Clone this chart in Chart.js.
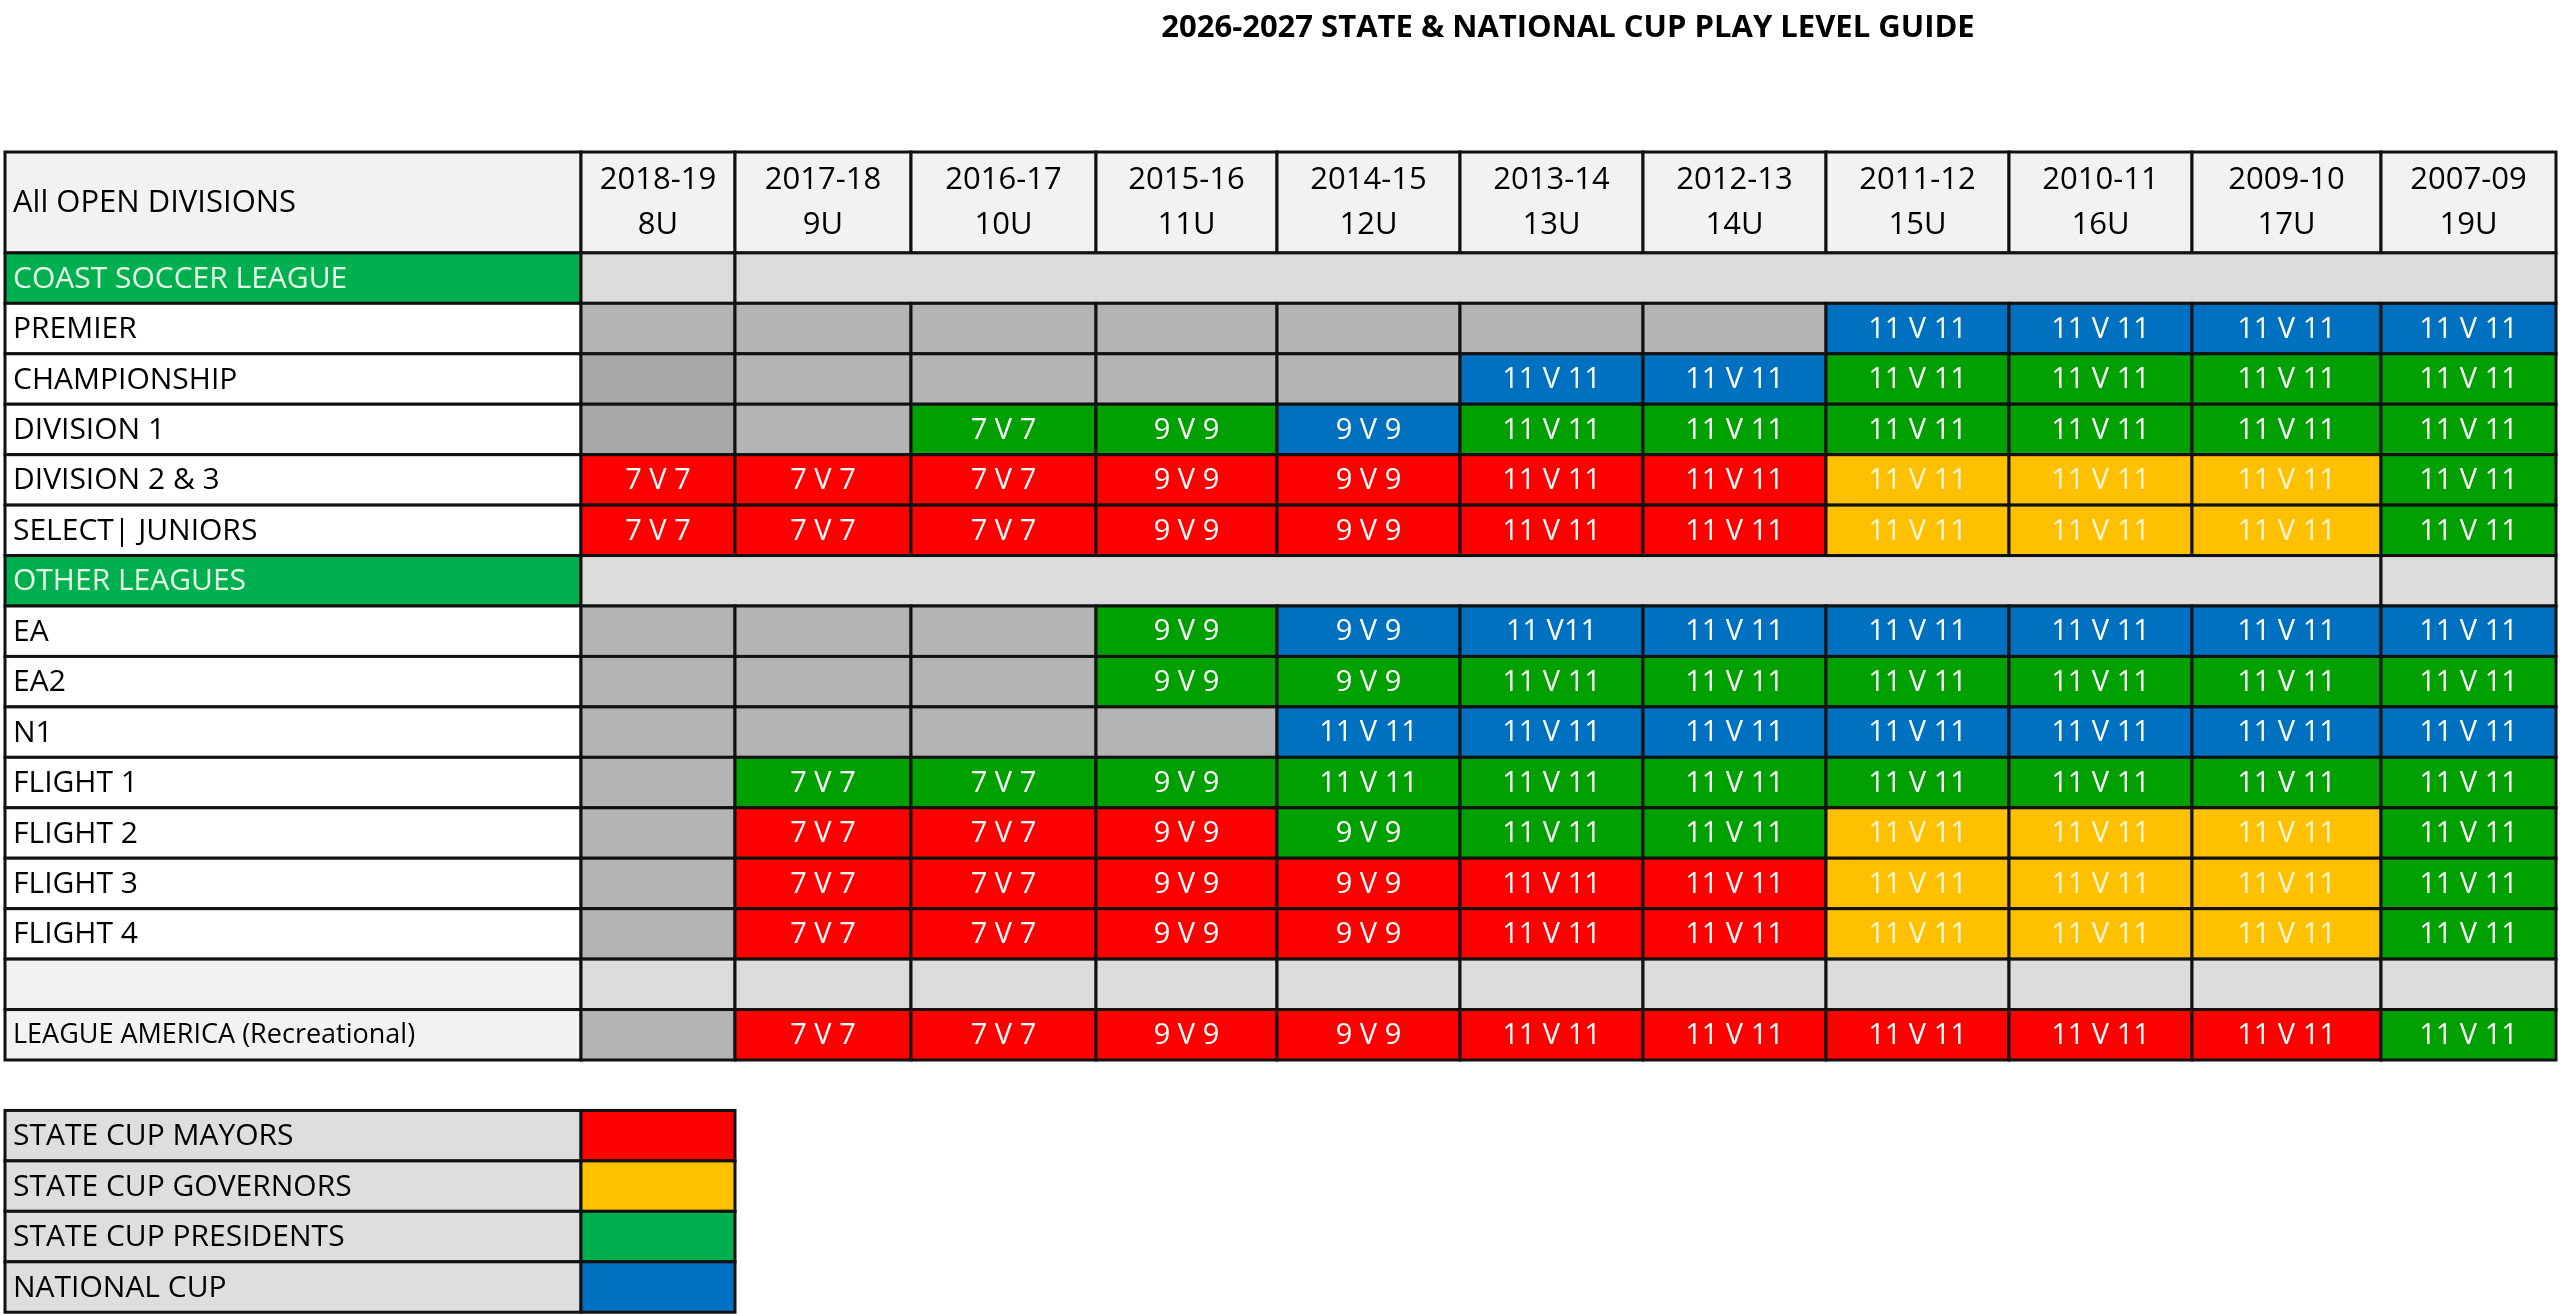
<!DOCTYPE html>
<html lang="en">
<head>
    <meta charset="UTF-8">
    <title>2026-2027 State & National Cup Play Level Guide</title>
    <script src="https://cdn.jsdelivr.net/npm/chart.js@4.4.1/dist/chart.umd.min.js"></script>
    <style>
        html, body { margin: 0; padding: 0; background: #fff; }
        #wrap { position: relative; width: 2560px; height: 1316px; }
    </style>
</head>
<body>
<div id="wrap"><canvas id="guide"></canvas></div>
<script>
// ---- data ----
const title = '2026-2027 STATE & NATIONAL CUP PLAY LEVEL GUIDE';
const headerLabel = 'All OPEN DIVISIONS';
const years = ['2018-19', '2017-18', '2016-17', '2015-16', '2014-15', '2013-14', '2012-13', '2011-12', '2010-11', '2009-10', '2007-09'];
const ages = ['8U', '9U', '10U', '11U', '12U', '13U', '14U', '15U', '16U', '17U', '19U'];

const rowLabels = ['COAST SOCCER LEAGUE', 'PREMIER', 'CHAMPIONSHIP', 'DIVISION 1', 'DIVISION 2 & 3', 'SELECT| JUNIORS',
    'OTHER LEAGUES', 'EA', 'EA2', 'N1', 'FLIGHT 1', 'FLIGHT 2', 'FLIGHT 3', 'FLIGHT 4', '', 'LEAGUE AMERICA (Recreational)'];

// cup level per cell: R mayors, Y governors, G presidents, B national, g not offered, l blank
const levels = [
    null,
    ['g','g','g','g','g','g','g','B','B','B','B'],
    ['g','g','g','g','g','B','B','G','G','G','G'],
    ['g','g','G','G','B','G','G','G','G','G','G'],
    ['R','R','R','R','R','R','R','Y','Y','Y','G'],
    ['R','R','R','R','R','R','R','Y','Y','Y','G'],
    null,
    ['g','g','g','G','B','B','B','B','B','B','B'],
    ['g','g','g','G','G','G','G','G','G','G','G'],
    ['g','g','g','g','B','B','B','B','B','B','B'],
    ['g','G','G','G','G','G','G','G','G','G','G'],
    ['g','R','R','R','G','G','G','Y','Y','Y','G'],
    ['g','R','R','R','R','R','R','Y','Y','Y','G'],
    ['g','R','R','R','R','R','R','Y','Y','Y','G'],
    ['l','l','l','l','l','l','l','l','l','l','l'],
    ['g','R','R','R','R','R','R','R','R','R','G']
];
const formats = [
    null,
    ['','','','','','','','11 V 11','11 V 11','11 V 11','11 V 11'],
    ['','','','','','11 V 11','11 V 11','11 V 11','11 V 11','11 V 11','11 V 11'],
    ['','','7 V 7','9 V 9','9 V 9','11 V 11','11 V 11','11 V 11','11 V 11','11 V 11','11 V 11'],
    ['7 V 7','7 V 7','7 V 7','9 V 9','9 V 9','11 V 11','11 V 11','11 V 11','11 V 11','11 V 11','11 V 11'],
    ['7 V 7','7 V 7','7 V 7','9 V 9','9 V 9','11 V 11','11 V 11','11 V 11','11 V 11','11 V 11','11 V 11'],
    null,
    ['','','','9 V 9','9 V 9','11 V11','11 V 11','11 V 11','11 V 11','11 V 11','11 V 11'],
    ['','','','9 V 9','9 V 9','11 V 11','11 V 11','11 V 11','11 V 11','11 V 11','11 V 11'],
    ['','','','','11 V 11','11 V 11','11 V 11','11 V 11','11 V 11','11 V 11','11 V 11'],
    ['','7 V 7','7 V 7','9 V 9','11 V 11','11 V 11','11 V 11','11 V 11','11 V 11','11 V 11','11 V 11'],
    ['','7 V 7','7 V 7','9 V 9','9 V 9','11 V 11','11 V 11','11 V 11','11 V 11','11 V 11','11 V 11'],
    ['','7 V 7','7 V 7','9 V 9','9 V 9','11 V 11','11 V 11','11 V 11','11 V 11','11 V 11','11 V 11'],
    ['','7 V 7','7 V 7','9 V 9','9 V 9','11 V 11','11 V 11','11 V 11','11 V 11','11 V 11','11 V 11'],
    ['','','','','','','','','','',''],
    ['','7 V 7','7 V 7','9 V 9','9 V 9','11 V 11','11 V 11','11 V 11','11 V 11','11 V 11','11 V 11']
];
// merged blank spans for section rows [firstCol, lastCol]
const sectionSpans = { 0: [[0, 0], [1, 10]], 6: [[0, 9], [10, 10]] };

const legendLabels = ['STATE CUP MAYORS', 'STATE CUP GOVERNORS', 'STATE CUP PRESIDENTS', 'NATIONAL CUP'];
const legendLevels = ['R', 'Y', 'LG', 'B'];

// ---- styling / layout ----
const colors = { R: '#FF0000', Y: '#FFC000', G: '#00A000', LG: '#00B050', B: '#0070C0', g: '#B4B4B4', l: '#DCDCDC' };
const colWidths = [576, 154, 176, 185, 181, 183, 183, 183, 183, 183, 189, 175];
const colEdges = colWidths.reduce((a, w) => { a.push(a[a.length - 1] + w); return a; }, [0]);
const FONT = '"Open Sans", "DejaVu Sans", sans-serif';

const tablePlugin = {
    id: 'tablePlugin',
    afterDraw(chart) {
        const { ctx, scales: { x, y } } = chart;
        const X = v => x.getPixelForValue(v);
        const Y = v => y.getPixelForValue(v);
        const cell = (c0, c1, r0, r1, fill, text, tcolor, align) => {
            const l = X(colEdges[c0]), rr = X(colEdges[c1]);
            const t = Y(r0), b = Y(r1);
            ctx.fillStyle = fill;
            ctx.fillRect(l, t, rr - l, b - t);
            ctx.strokeStyle = '#111';
            ctx.lineWidth = 3;
            ctx.strokeRect(l, t, rr - l, b - t);
            if (text) {
                ctx.fillStyle = tcolor;
                ctx.textBaseline = 'middle';
                if (align === 'left') { ctx.textAlign = 'left'; ctx.fillText(text, l + 8, (t + b) / 2 + 1); }
                else { ctx.textAlign = 'center'; ctx.fillText(text, (l + rr) / 2, (t + b) / 2 + 1); }
            }
        };
        ctx.save();
        // title
        ctx.font = 'bold 31px ' + FONT;
        ctx.fillStyle = '#000';
        ctx.textAlign = 'center';
        ctx.textBaseline = 'middle';
        ctx.fillText(title, 1568, 28);

        // header
        ctx.font = '31px ' + FONT;
        cell(0, 1, 0, 2, '#F2F2F2', headerLabel, '#000', 'left');
        years.forEach((yr, i) => {
            cell(i + 1, i + 2, 0, 2, '#F2F2F2', '', '#000');
            ctx.fillStyle = '#000';
            ctx.textAlign = 'center';
            const cx = (X(colEdges[i + 1]) + X(colEdges[i + 2])) / 2;
            ctx.fillText(yr, cx, Y(0.55));
            ctx.fillText(ages[i], cx, Y(1.45));
        });

        // body rows
        rowLabels.forEach((lab, r) => {
            const r0 = r + 2, r1 = r + 3;
            ctx.font = (r === 15 ? '27px ' : '30px ') + FONT;
            if (sectionSpans[r]) {
                cell(0, 1, r0, r1, colors.LG, lab, '#E8FFE8', 'left');
                sectionSpans[r].forEach(s => cell(s[0] + 1, s[1] + 2, r0, r1, colors.l, '', ''));
                return;
            }
            const labFill = (r >= 14) ? '#F2F2F2' : '#FFFFFF';
            cell(0, 1, r0, r1, labFill, lab, '#000', 'left');
            ctx.font = '29px ' + FONT;
            levels[r].forEach((lv, c) => {
                const fill = (lv === 'g' && c === 0 && r > 1 && r < 4) ? '#A8A8A8' : colors[lv];
                cell(c + 1, c + 2, r0, r1, fill, formats[r][c], lv === 'Y' ? '#FFF6D8' : '#FFFFFF');
            });
        });

        // legend
        ctx.font = '30px ' + FONT;
        legendLabels.forEach((lab, i) => {
            cell(0, 1, 19 + i, 20 + i, '#DEDEDE', lab, '#000', 'left');
            cell(1, 2, 19 + i, 20 + i, colors[legendLevels[i]], '', '');
        });
        ctx.restore();
    }
};

new Chart(document.getElementById('guide'), {
    type: 'scatter',
    data: { datasets: [{ data: [] }] },
    options: {
        responsive: true,
        maintainAspectRatio: false,
        animation: false,
        layout: { padding: { left: 5, right: 4, top: 152, bottom: 256 } },
        plugins: { legend: { display: false }, tooltip: { enabled: false } },
        scales: {
            x: { type: 'linear', display: false, min: 0, max: colEdges[colEdges.length - 1] },
            y: { type: 'linear', display: false, reverse: true, min: 0, max: 18 }
        }
    },
    plugins: [tablePlugin]
});
</script>
</body>
</html>
